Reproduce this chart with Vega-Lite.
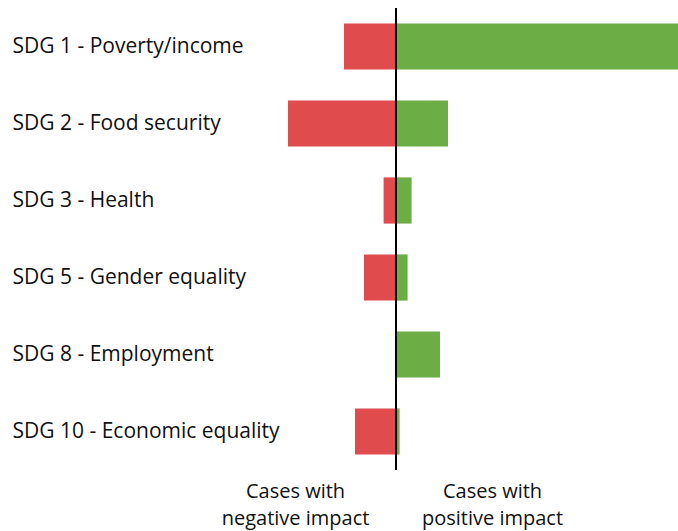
{
  "$schema": "https://vega.github.io/schema/vega-lite/v6.json",
  "width": 666,
  "height": 462,
  "autosize": {"type": "none"},
  "padding": {"top": 8, "left": 12, "right": 0, "bottom": 61},
  "config": {"view": {"stroke": null}, "font": "Open Sans"},
  "data": {"values": [
    {"sdg": "SDG 1 - Poverty/income", "impact": "negative", "value": -13},
    {"sdg": "SDG 1 - Poverty/income", "impact": "positive", "value": 70.5},
    {"sdg": "SDG 2 - Food security", "impact": "negative", "value": -27},
    {"sdg": "SDG 2 - Food security", "impact": "positive", "value": 13},
    {"sdg": "SDG 3 - Health", "impact": "negative", "value": -3.1},
    {"sdg": "SDG 3 - Health", "impact": "positive", "value": 3.9},
    {"sdg": "SDG 5 - Gender equality", "impact": "negative", "value": -8},
    {"sdg": "SDG 5 - Gender equality", "impact": "positive", "value": 2.9},
    {"sdg": "SDG 8 - Employment", "impact": "negative", "value": 0},
    {"sdg": "SDG 8 - Employment", "impact": "positive", "value": 11},
    {"sdg": "SDG 10 - Economic equality", "impact": "negative", "value": -10.25},
    {"sdg": "SDG 10 - Economic equality", "impact": "positive", "value": 0.9}
  ]},
  "layer": [
    {
      "mark": {"type": "bar"},
      "encoding": {
        "y": {
          "field": "sdg", "type": "nominal", "sort": null,
          "scale": {"paddingInner": 0.4, "paddingOuter": 0.2},
          "axis": {"title": null, "ticks": false, "tickSize": 0, "domain": false, "labelPadding": 0,
                   "labelAlign": "left", "labelFontSize": 21, "labelColor": "#111111", "labelLimit": 400}
        },
        "x": {
          "field": "value", "type": "quantitative", "stack": null,
          "scale": {"domain": [-96, 70.5], "nice": false, "zero": true},
          "axis": {"title": null, "grid": false, "ticks": false, "domain": false,
                   "values": [-25.25, 24], "labelPadding": 27, "labelFontSize": 20,
                   "labelColor": "#111111", "labelLineHeight": 27, "labelBaseline": "alphabetic",
                   "labelExpr": "datum.value < 0 ? ['Cases with', 'negative impact'] : ['Cases with', 'positive impact']"}
        },
        "color": {
          "field": "impact", "type": "nominal",
          "scale": {"domain": ["negative", "positive"], "range": ["#E04B4E", "#6DAD46"]},
          "legend": null
        }
      }
    },
    {
      "mark": {"type": "rule", "color": "#000000", "strokeWidth": 1.2},
      "encoding": {"x": {"datum": 0}}
    }
  ]
}
